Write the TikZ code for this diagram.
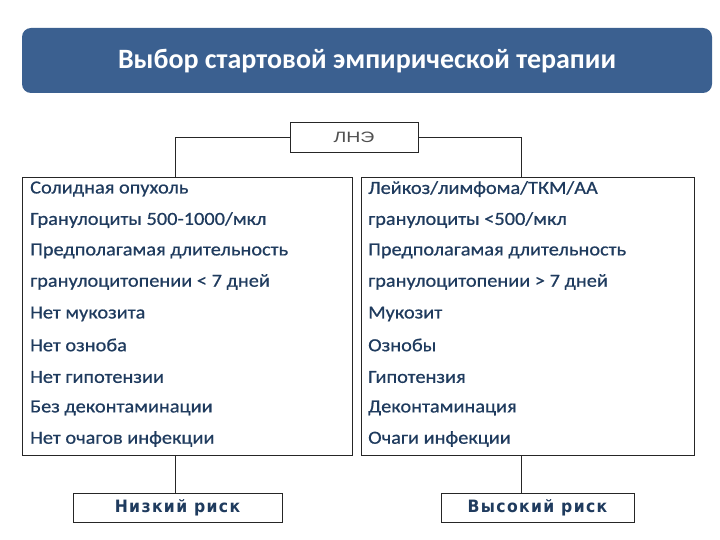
\documentclass[tikz,border=0pt]{standalone}
\usepackage{fontspec}
\setmainfont{Carlito}
\newfontfamily\itemfont[FakeStretch=1.1, UprightFeatures={FakeBold=0.6}]{Carlito}
\newfontfamily\lnefont[FakeStretch=1.3]{Liberation Sans}
\newfontfamily\riskfont[LetterSpace=8, FakeStretch=0.92]{DejaVu Sans}
\definecolor{banner}{HTML}{3B6090}
\definecolor{txt}{HTML}{1F3B5E}
\definecolor{lnecol}{HTML}{505050}
\tikzset{
  banner/.style={fill=banner, rounded corners=9pt, draw=none},
  frame/.style={draw=black!85, line width=0.7pt, fill=white},
  conn/.style={draw=black!85, line width=0.7pt},
  item/.style={anchor=west, inner sep=0pt, text=txt, font=\itemfont\fontsize{18.5}{20}\selectfont},
  risk/.style={text=txt, font=\riskfont\bfseries\fontsize{17}{19}\selectfont}
}
\begin{document}
\begin{tikzpicture}[x=1pt,y=-1pt]
\useasboundingbox (0,0) rectangle (720,540);
\fill[white] (0,0) rectangle (720,540);
% banner
\path[banner] (22,28) rectangle (712,93);
\node[text=white, font=\bfseries\fontsize{28}{32}\selectfont] (title) at (367,61) {Выбор стартовой эмпирической терапии};
% LNE
\node[frame, minimum width=128pt, minimum height=30pt, inner sep=0pt, text=lnecol, font=\lnefont\fontsize{15}{17}\selectfont] (lne) at (354,137) {ЛНЭ};
% boxes
\node[frame, minimum width=330pt, minimum height=278pt, inner sep=0pt] (left) at (187,316) {};
\node[frame, minimum width=333pt, minimum height=278pt, inner sep=0pt] (right) at (527.5,316) {};
\coordinate (lt) at (175,177);
\coordinate (rt) at (521,177);
\draw[conn] (lne.west) -| (lt);
\draw[conn] (lne.east) -| (rt);
% left items
\node[item] (l1) at (30,189) {Солидная опухоль};
\node[item] (l2) at (30,220) {Гранулоциты 500-1000/мкл};
\node[item] (l3) at (30,251) {Предполагамая длительность};
\node[item] (l4) at (30,282) {гранулоцитопении < 7 дней};
\node[item] (l5) at (30,314) {Нет мукозита};
\node[item] (l6) at (30,345) {Нет озноба};
\node[item] (l7) at (30,377) {Нет гипотензии};
\node[item] (l8) at (30,408) {Без деконтаминации};
\node[item] (l9) at (30,439) {Нет очагов инфекции};
% right items
\node[item] (r1) at (368,189) {Лейкоз/лимфома/ТКМ/АА};
\node[item] (r2) at (368,220) {гранулоциты <500/мкл};
\node[item] (r3) at (368,251) {Предполагамая длительность};
\node[item] (r4) at (368,282) {гранулоцитопении > 7 дней};
\node[item] (r5) at (368,314) {Мукозит};
\node[item] (r6) at (368,345) {Ознобы};
\node[item] (r7) at (368,377) {Гипотензия};
\node[item] (r8) at (368,408) {Деконтаминация};
\node[item] (r9) at (368,439) {Очаги инфекции};
% risk boxes
\node[frame, minimum width=209pt, minimum height=29pt, inner sep=0pt, risk] (low) at (177.5,507.5) {Низкий риск};
\node[frame, minimum width=193pt, minimum height=29pt, inner sep=0pt, risk] (high) at (537.5,507.5) {Высокий риск};
\draw[conn] (left.south -| low.north) ++(-2.5,0) -- ++(0,38);
\draw[conn] (right.south -| high.north) ++(-16.5,0) -- ++(0,38);
\end{tikzpicture}
\end{document}
